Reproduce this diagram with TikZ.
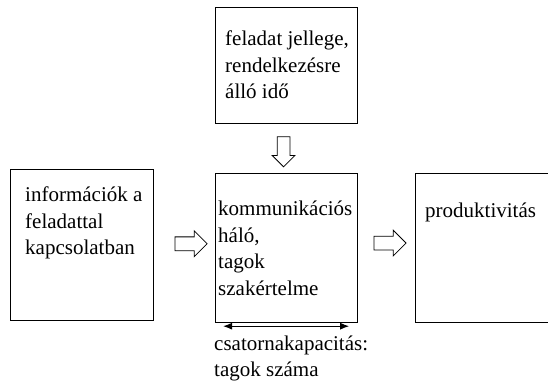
\documentclass[tikz,border=0pt]{standalone}
\usepackage{fontspec}
\setmainfont{Liberation Serif}
\usetikzlibrary{arrows.meta, positioning, calc, shapes.arrows}
\tikzset{
  box/.style={draw, line width=1.2pt, minimum width=142pt, minimum height=150pt, inner sep=0pt, anchor=north west},
  txt/.style={anchor=north west, align=left, inner sep=0pt, font=\fontsize{21}{26.5}\selectfont},
  hollow/.style={single arrow, draw, line width=0.8pt, fill=white, minimum height=32pt, inner xsep=0pt, inner ysep=6.5pt, single arrow head extend=6pt},
  arr/.style={{Latex[length=9pt, width=7pt]}-{Latex[length=9pt, width=7pt]}, line width=1.2pt},
}

\begin{document}
\begin{tikzpicture}[x=1pt, y=-1pt]
    \useasboundingbox (0,0) rectangle (548,380);
    % boxes
    \node[box, minimum height=116pt] (task) at (215,7) {};
    \node[box, minimum width=143pt, minimum height=151pt] (info) at (10,169) {};
    \node[box, minimum height=149pt] (comm) at (215,173) {};
    \node[box, minimum width=150pt, minimum height=149pt] (prod) at (415,173) {};
    % texts
    \node[txt] (tasktxt) at ($(task.north west)+(10,24)$) {feladat jellege,\\rendelkezésre\\álló idő};
    \node[txt] (infotxt) at ($(info.north west)+(15,18)$) {információk a\\feladattal\\kapcsolatban};
    \node[txt] (commtxt) at ($(comm.north west)+(3,28)$) {kommunikációs\\háló,\\tagok\\szakértelme};
    \node[txt] (prodtxt) at ($(prod.north west)+(10,30)$) {produktivitás};
    % hollow arrows
    \node[hollow] (a1) at ($(info.east)!0.55!(comm.west)+(0,-3)$) {};
    \node[hollow] (a2) at ($(comm.east)!0.5!(prod.west)+(0,-5)$) {};
    \node[hollow, minimum height=30pt, inner ysep=6pt, single arrow head extend=5pt, rotate=-90] (a3) at ($(task.south)!0.5!(comm.north)+(-3,0)$) {};
    % channel capacity
    \coordinate (ca) at ($(comm.south west)+(8,3)$);
    \coordinate (cb) at ($(comm.south east)+(-9,3)$);
    \draw[arr] (ca) -- (cb);
    \node[txt] (captxt) at ($(comm.south west)+(-1,12)$) {csatornakapacitás:\\tagok száma};
\end{tikzpicture}
\end{document}
